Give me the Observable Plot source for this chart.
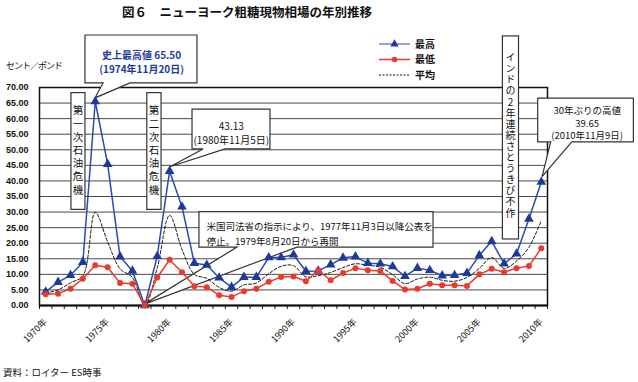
<!DOCTYPE html>
<html><head><meta charset="utf-8">
<script src="https://cdn.jsdelivr.net/npm/d3@7"></script>
<script src="https://cdn.jsdelivr.net/npm/@observablehq/plot@0.6"></script>
<style>
body{margin:0;background:#fff;font-family:"Noto Sans CJK JP",sans-serif}
#wrap{position:relative;width:638px;height:382px;overflow:hidden;background:#fff}
#chart{position:absolute;left:0;top:0}
.t{position:absolute;white-space:nowrap;color:#111;line-height:1}
#legend{position:absolute;left:372px;top:36px}
</style></head><body>
<div id="wrap">
<div id="chart"></div>
<div class="t" style="left:122px;top:6px;font-size:12.5px;font-weight:bold;">図６　ニューヨーク粗糖現物相場の年別推移</div>
<div class="t" style="left:6px;top:61px;font-size:9px;letter-spacing:-1px">セント／ポンド</div>
<div class="t" style="left:3px;top:368px;font-size:9.5px">資料：ロイター ES時事</div>
<svg id="legend" width="80" height="50"></svg>
</div>
<script>
const years = [1970,1971,1972,1973,1974,1975,1976,1977,1978,1979,1980,1981,1982,1983,1984,1985,1986,1987,1988,1989,1990,1991,1992,1993,1994,1995,1996,1997,1998,1999,2000,2001,2002,2003,2004,2005,2006,2007,2008,2009,2010];
const high = [4.4,7.5,9.7,13.9,65.50,45.4,15.7,11.1,0,15.8,43.13,31.7,13.6,13.0,8.9,5.9,9.1,9.1,15.4,15.4,16.3,11.0,11.1,13.1,15.3,15.7,13.6,13.4,12.5,9.4,12.0,11.3,9.6,9.7,10.4,16.1,20.6,13.4,16.6,27.8,39.65];
const low  = [3.6,3.8,5.4,8.6,12.9,12.3,7.2,7.0,0,9.0,14.7,10.7,6.2,5.9,3.3,2.75,4.6,5.4,7.6,9.15,9.35,7.8,11.3,8.1,10.4,12.0,11.3,11.1,7.9,5.1,5.4,7.0,6.5,6.5,6.3,10.0,11.8,10.7,12.0,12.65,18.4];
const avg  = [4.0,5.0,7.3,9.5,29.9,20.4,11.8,9.0,0,12.0,29.0,18.0,10.0,8.7,5.8,4.6,6.6,7.2,10.2,12.6,12.8,9.2,9.6,10.6,12.2,13.4,12.9,12.3,9.9,7.0,8.5,9.1,8.1,7.8,9.0,11.9,15.4,11.9,14.3,18.7,27.3];
const seriesNames = ["最高","最低","平均"];
const yTicks = [0,5,10,15,20,25,30,35,40,45,50,55,60,65,70];
const xLabelYears = [1970,1975,1980,1985,1990,1995,2000,2005,2010];

const BLUE = "#2a4bb0", BLUE_DK = "#1d3a9a", RED = "#ea3a2e";
const rows = years.map((yr, i) => ({year: yr, high: high[i], low: low[i], avg: avg[i]}));
const edges = years.map(y => y - 0.5).concat([years[years.length - 1] + 0.5]);

// annotation callouts (in data units)
const callouts = [
  {x1:1973.21, x2:1982.25, yt:86.7, yb:71.3, b1:1974.67, b2:1976.84, tip:[1974.02,66.5]},
  {x1:1981.85, x2:1988.14, yt:62.9, yb:50.1, b1:1982.74, b2:1984.51, tip:[1980.07,44.4]},
  {x1:1982.41, x2:2001.3, yt:30.0, yb:18.6, b1:1985.48, b2:1990.32, tip:[1977.97,0.2]},
  {x1:2009.75, x2:2017.47, yt:66.4, yb:52.4, b1:2010.8, b2:2012.5, tip:[2010.1,41.2]}
];
const vboxes = [
  {x1:1972.08, x2:1973.21, yt:68.2, yb:30.7, cx:1972.65, cy:49.3, text:"第一次石油危機", size:10.5, spacing:2.7},
  {x1:1978.2, x2:1979.35, yt:68.2, yb:30.7, cx:1978.78, cy:49.3, text:"第二次石油危機", size:10.5, spacing:2.7},
  {x1:2006.9, x2:2008.2, yt:86.4, yb:21.2, cx:2007.55, cy:54.4, text:"インドの2年連続さとうきび不作", size:10, spacing:1.1}
];
const notes = [
  {x:1977.74, y:78.3, text:"史上最高値 65.50\n(1974年11月20日)", fill:BLUE_DK, size:10, lh:1.36, anchor:"middle", weight:"bold"},
  {x:1984.98, y:55.6, text:"43.13\n(1980年11月5日)", fill:"#111", size:10, lh:1.36, anchor:"middle", weight:"normal"},
  {x:1982.98, y:23.5, text:"米国司法省の指示により、1977年11月3日以降公表を\n停止。1979年8月20日から再開", fill:"#111", size:9.5, lh:1.6, anchor:"start", weight:"normal"},
  {x:2013.7, y:58.8, text:"30年ぶりの高値\n39.65\n(2010年11月9日)", fill:"#111", size:9.5, lh:1.36, anchor:"middle", weight:"normal"}
];

const annotationShapes = (index, scales) => {
  const {x, y} = scales;
  const g = d3.create("svg:g");
  const shapes = g.append("g").attr("fill", "#fff").attr("stroke", "#333").attr("stroke-width", 1.2).attr("stroke-linejoin", "miter");
  for (const c of callouts) {
    const p = d3.path();
    p.moveTo(x(c.x1), y(c.yt));
    p.lineTo(x(c.x2), y(c.yt));
    p.lineTo(x(c.x2), y(c.yb));
    p.lineTo(x(c.b2), y(c.yb));
    p.lineTo(x(c.tip[0]), y(c.tip[1]));
    p.lineTo(x(c.b1), y(c.yb));
    p.lineTo(x(c.x1), y(c.yb));
    p.closePath();
    shapes.append("path").attr("d", p.toString());
  }
  for (const b of vboxes) {
    shapes.append("rect").attr("x", x(b.x1)).attr("y", y(b.yt))
      .attr("width", x(b.x2) - x(b.x1)).attr("height", y(b.yb) - y(b.yt));
  }
  for (const b of vboxes) {
    g.append("text").attr("x", x(b.cx)).attr("y", y(b.cy))
      .attr("text-anchor", "middle")
      .style("writing-mode", "vertical-rl").style("text-orientation", "upright")
      .attr("letter-spacing", b.spacing)
      .attr("font-size", b.size).attr("fill", "#111")
      .attr("font-family", '"Noto Sans CJK JP", sans-serif')
      .text(b.text);
  }
  return g.node();
};

const noteMarks = notes.map(n => Plot.text([n], {
  x: "x", y: "y", text: "text", fill: n.fill, fontSize: n.size, lineHeight: n.lh, textAnchor: n.anchor, fontWeight: n.weight
}));

const chart = Plot.plot({
  width: 638, height: 382,
  marginLeft: 39, marginRight: 91, marginTop: 87, marginBottom: 77,
  x: {domain: [1969.5, 2010.5], axis: null},
  y: {domain: [0, 70], axis: null},
  style: {fontFamily: '"Noto Sans CJK JP", sans-serif', background: "transparent", color: "#111"},
  marks: [
    Plot.ruleY(yTicks.filter(v => v > 0 && v < 70), {y: d => d, stroke: "#4a4a4a", strokeWidth: 1}),
    Plot.frame({stroke: "#111", strokeWidth: 1.5}),
    Plot.ruleY([0], {y: d => d, stroke: "#111", strokeWidth: 2.2}),
    Plot.ruleX(edges, {x: d => d, y1: () => 0, y2: () => -1.25, stroke: "#111", strokeWidth: 1}),
    Plot.text(yTicks, {y: d => d, frameAnchor: "left", text: d => d.toFixed(2), textAnchor: "end", dx: -11, fontSize: 9, fill: "#111", fontFamily: '"Liberation Sans", Arial, sans-serif', fontWeight: "bold"}),
    Plot.text(xLabelYears, {x: d => d, frameAnchor: "bottom", text: d => d + "年", rotate: -45, textAnchor: "end", dx: 2, dy: 17, fontSize: 9, fill: "#111"}),
    annotationShapes,
    ...noteMarks,
    Plot.line(rows, {x: "year", y: "avg", stroke: "#111", strokeWidth: 1, strokeDasharray: "3,2", curve: "catmull-rom"}),
    Plot.line(rows, {x: "year", y: "high", stroke: BLUE, strokeWidth: 1.5}),
    Plot.dot(rows, {x: "year", y: "high", symbol: "triangle", r: 3.6, fill: BLUE_DK, stroke: "none"}),
    Plot.line(rows, {x: "year", y: "low", stroke: RED, strokeWidth: 1.5}),
    Plot.dot(rows, {x: "year", y: "low", symbol: "circle", r: 3, fill: RED, stroke: "none"})
  ]
});
document.getElementById("chart").append(chart);

// legend
const lg = d3.select("#legend");
const legendStyles = [
  {name: seriesNames[0], stroke: "#6f86d6", marker: "triangle", mfill: BLUE_DK, dash: null},
  {name: seriesNames[1], stroke: RED, marker: "circle", mfill: RED, dash: null},
  {name: seriesNames[2], stroke: "#111", marker: null, mfill: null, dash: "2,1.5"}
];
legendStyles.forEach((s, i) => {
  const yy = 8 + i * 15.5;
  lg.append("line").attr("x1", 7).attr("x2", 38).attr("y1", yy).attr("y2", yy)
    .attr("stroke", s.stroke).attr("stroke-width", s.dash ? 1 : 1.5).attr("stroke-dasharray", s.dash);
  if (s.marker) {
    lg.append("path").attr("transform", `translate(22.5,${yy})`)
      .attr("d", d3.symbol(s.marker === "triangle" ? d3.symbolTriangle : d3.symbolCircle, s.marker === "triangle" ? 30 : 24)())
      .attr("fill", s.mfill);
  }
  lg.append("text").attr("x", 43).attr("y", yy).attr("dy", "0.35em")
    .attr("font-size", 10).attr("fill", "#111").attr("font-weight", "bold").attr("font-family", '"Noto Sans CJK JP", sans-serif').text(s.name);
});
</script>
</body></html>
